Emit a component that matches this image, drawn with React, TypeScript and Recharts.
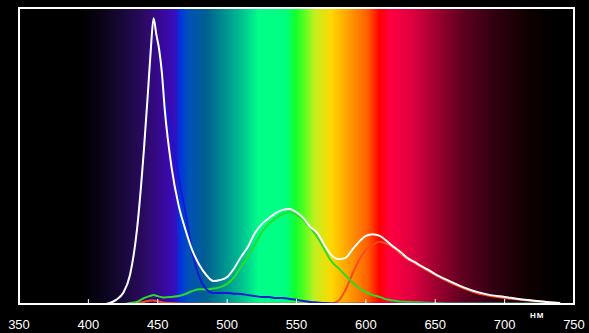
import React from 'react';
import { LineChart, Line, XAxis, YAxis, ReferenceArea } from 'recharts';

// wavelength samples, nm
const wavelengths = [
  405, 410, 415, 420, 425, 430, 435, 440, 443, 445, 447, 449, 451, 453, 455,
  460, 465, 470, 475, 480, 485, 490, 495, 500,
  505, 510, 515, 520, 525, 530, 535, 540, 545, 550, 555, 560, 565, 570, 575, 580,
  585, 590, 595, 600, 605, 610, 615, 620, 625, 630, 635, 640, 645, 650,
  660, 670, 680, 690, 700, 710, 720, 730, 740,
];

// total (white) spectrum
const whiteTotal = [
  0, 0, 0.3, 1.4, 3.7, 9.8, 25, 52, 72, 86, 96.5, 91, 86, 78, 66,
  46, 33.4, 25, 18, 13.2, 9.8, 7.8, 8.1, 9.1,
  12, 15.9, 19.3, 24, 27, 29, 30.7, 31.8, 32.1, 31, 29, 26, 24, 20, 16.6, 15.2,
  15.5, 18.2, 21, 23, 23.6, 23, 21.3, 19.3, 17.6, 15.5, 14.2, 12.8, 11.5, 10.1,
  7.8, 5.7, 4.1, 3, 2.4, 1.7, 1.2, 0.7, 0.3,
];

// blue channel
const blueLevel = [
  0, 0, 0.3, 1.4, 3.7, 9.8, 25, 52, 72, 86, 96.5, 91, 86.5, 79, 70,
  58, 43, 30.7, 17.2, 9.1, 5, 3.7, 3.7, 3.7,
  3.5, 3.4, 3, 2.7, 2.4, 2.4, 2, 2, 1.7, 1.4, 1, 0.7, 0.5, 0.3, 0.2, 0.1,
  0.1, 0.1, 0.1, 0.1, 0.1, 0.1, 0.1, 0.1, 0.1, 0.1, 0.1, 0.1, 0.1, 0.1,
  0.1, 0.1, 0.1, 0.1, 0.1, 0.1, 0.1, 0.1, 0.1,
];

// green channel
const greenLevel = [
  0, 0, 0, 0, 0, 0.3, 0.7, 2, 2.5, 2.8, 3, 2.8, 2.5, 2.3, 2.2,
  2.4, 2.7, 3.4, 4.4, 5, 4.9, 5.2, 5.7, 6.8,
  9, 12.5, 16, 20, 24.3, 27, 29, 30.4, 31.1, 30, 28.4, 25.7, 22.6, 18.6, 14.5, 12.2,
  9.8, 7.4, 5.4, 4, 3, 2.4, 1.5, 1.2, 0.8, 0.7, 0.6, 0.5, 0.4, 0.3,
  0.2, 0.2, 0.2, 0.2, 0.2, 0.2, 0.2, 0.2, 0.2,
];

// red channel
const redLevel = [
  0, 0, 0, 0, 0, 0, 0.3, 0.7, 1, 1.2, 1.2, 1, 0.8, 0.6, 0.4,
  0.3, 0.2, 0.1, 0.1, 0.1, 0.1, 0.1, 0.1, 0.1,
  0.1, 0.1, 0.1, 0.1, 0.1, 0.1, 0.1, 0.1, 0.1, 0.1, 0.1, 0.1, 0.1, 0.1, 0.2, 1,
  4.5, 9.8, 14.8, 18.2, 20, 21, 20.3, 19, 16.9, 15.2, 13.9, 12.5, 11.1, 9.8,
  7.4, 5.4, 3.7, 2.7, 2, 1.5, 1, 0.7, 0.3,
];

const xTicks = [350, 400, 450, 500, 550, 600, 650, 700, 750];

// colour of the background band at a given wavelength
const spectrumStops: [number, string][] = [
  [350, '#000000'], [395, '#000000'], [410, '#0a0418'], [425, '#180838'],
  [440, '#2a0a60'], [455, '#3a08a0'], [463, '#3410c0'], [466, '#0034e0'],
  [472, '#0050b8'], [485, '#006090'], [500, '#009890'], [512, '#00c890'],
  [523, '#00ff88'], [542, '#00ff80'], [549, '#10ff30'], [555, '#50ff20'],
  [563, '#c0f020'], [575, '#ffd800'], [587, '#ffa000'], [601, '#ff6000'],
  [610, '#ff0000'], [617, '#ff0040'], [633, '#e00040'], [650, '#a00030'],
  [669, '#600020'], [693, '#300010'], [717, '#100000'], [736, '#000000'],
  [750, '#000000'],
];

const rows = wavelengths.map((nm, i) => ({
  nm,
  white: whiteTotal[i],
  blue: blueLevel[i],
  green: greenLevel[i],
  red: redLevel[i],
}));

const TickMark = (props: any) => {
  const { x, y, payload } = props;
  return (
    <g>
      <line x1={x} x2={x} y1={y - 5} y2={y} stroke="#ffffff" strokeWidth={1} />
      <text
        x={x}
        y={y + 25}
        textAnchor="middle"
        fill="#ffffff"
        fontSize={13}
        fontFamily="'Liberation Sans', Arial, sans-serif"
      >
        {payload.value}
      </text>
    </g>
  );
};

export default function App() {
  return (
    <div style={{ position: 'absolute', left: 0, top: 0, width: 589, height: 333, background: '#000' }}>
      <LineChart width={589} height={333} data={rows} margin={{ top: 8, right: 15, bottom: 4, left: 19 }}>
        <defs>
          <linearGradient id="spectrum" x1="0" y1="0" x2="1" y2="0">
            {spectrumStops.map(([nm, c]) => (
              <stop key={nm} offset={(nm - 350) / 400} stopColor={c} />
            ))}
          </linearGradient>
        </defs>
        <XAxis
          dataKey="nm"
          type="number"
          domain={[350, 750]}
          ticks={xTicks}
          height={25}
          tickSize={0}
          tickMargin={0}
          tickLine={false}
          axisLine={{ stroke: '#ffffff', strokeWidth: 2 }}
          tick={<TickMark />}
          interval={0}
        />
        <YAxis type="number" domain={[0, 100]} hide />
        <ReferenceArea
          x1={350}
          x2={750}
          y1={0}
          y2={100}
          fill="url(#spectrum)"
          fillOpacity={1}
          stroke="#ffffff"
          strokeWidth={2}
        />
        <Line type="monotone" dataKey="red" stroke="#f84a1c" strokeWidth={2} dot={false} isAnimationActive={false} />
        <Line type="monotone" dataKey="green" stroke="#28dc28" strokeWidth={2} dot={false} isAnimationActive={false} />
        <Line type="monotone" dataKey="blue" stroke="#1418d8" strokeWidth={2} dot={false} isAnimationActive={false} />
        <Line type="monotone" dataKey="white" stroke="#ffffff" strokeWidth={2} dot={false} isAnimationActive={false} />
      </LineChart>
      <span
        style={{
          position: 'absolute',
          left: 530,
          top: 311,
          fontSize: 8,
          fontWeight: 'bold',
          letterSpacing: 1,
          color: '#ffffff',
          fontFamily: "'Liberation Sans', Arial, sans-serif",
          lineHeight: '10px',
        }}
      >
        НМ
      </span>
    </div>
  );
}
